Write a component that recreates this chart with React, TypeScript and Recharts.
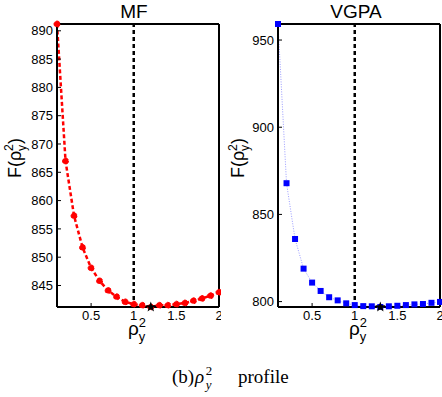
import { ComposedChart, Line, Scatter, XAxis, YAxis, ReferenceLine } from "recharts";

// rho_y^2 grid and objective values
const rho = [0.1, 0.2, 0.3, 0.4, 0.5, 0.6, 0.7, 0.8, 0.9, 1.0, 1.1, 1.2, 1.3, 1.4, 1.5, 1.6, 1.7, 1.8, 1.9, 2.0];
const mfValues = [891.2, 867.0, 857.3, 851.7, 848.1, 845.8, 844.1, 843.0, 842.1, 841.7, 841.5, 841.2, 841.5, 841.5, 841.7, 841.9, 842.3, 842.7, 843.2, 843.8];
const vgpaValues = [959.2, 867.9, 835.9, 818.9, 810.9, 806.1, 802.5, 800.7, 799.0, 798.0, 797.4, 797.3, 796.9, 797.3, 797.6, 798.0, 798.4, 798.6, 799.3, 799.8];

const xTicks = [0.5, 1, 1.5, 2];
const mfTicks = [845, 850, 855, 860, 865, 870, 875, 880, 885, 890];
const vgpaTicks = [800, 850, 900, 950];
const mfDomain: [number, number] = [841.2, 891.2];
const vgpaDomain: [number, number] = [796.9, 959.2];

// minimum of each profile (star) and the true value (dashed line)
const mfBest = [{ x: 1.2, y: 841.2 }];
const vgpaBest = [{ x: 1.3, y: 796.9 }];
const trueRho = 1;

const SANS = "Liberation Sans, Arial, sans-serif";
const SERIF = "Liberation Serif, DejaVu Serif, serif";

function Star(props: any) {
  const { cx, cy } = props;
  const pts: string[] = [];
  for (let i = 0; i < 10; i++) {
    const r = i % 2 === 0 ? 5.5 : 2.3;
    const a = -Math.PI / 2 + (i * Math.PI) / 5;
    pts.push(`${cx + r * Math.cos(a)},${cy + r * Math.sin(a)}`);
  }
  return <polygon points={pts.join(" ")} fill="#000" />;
}

function SquareDot(props: any) {
  const { cx, cy, index } = props;
  return <rect key={index} x={cx - 3} y={cy - 3} width={6} height={6} fill="#0000ff" />;
}

interface PanelProps {
  values: number[];
  domain: [number, number];
  ticks: number[];
  best: { x: number; y: number }[];
  kind: "mf" | "vgpa";
}

function Panel({ values, domain, ticks, best, kind }: PanelProps) {
  const data = rho.map((x, i) => ({ x, v: values[i] }));
  const axisLine = { stroke: "#000", strokeWidth: 2 };
  const tickLine = { stroke: "#000", strokeWidth: 1 };
  const tickStyle = { fill: "#000", fontSize: 13, fontFamily: SANS };
  return (
    <ComposedChart width={221} height={340} data={data} margin={{ top: 23, right: 1, left: 0, bottom: 0 }} style={{ overflow: "visible" }}>
      <XAxis dataKey="x" type="number" domain={[0.1, 2]} ticks={xTicks} interval={0} height={33}
        axisLine={axisLine} tickLine={tickLine} tickSize={-4} tickMargin={8} tick={tickStyle} />
      <XAxis xAxisId="top" orientation="top" dataKey="x" type="number" domain={[0.1, 2]} ticks={xTicks} interval={0} height={1}
        axisLine={axisLine} tickLine={tickLine} tickSize={-4} tick={false} />
      <YAxis type="number" domain={domain} ticks={ticks} interval={0} width={57}
        axisLine={axisLine} tickLine={tickLine} tickSize={-4} tickMargin={8} tick={tickStyle} />
      <YAxis yAxisId="right" orientation="right" type="number" domain={domain} ticks={ticks} interval={0} width={1}
        axisLine={axisLine} tickLine={tickLine} tickSize={-4} tick={false} />
      <ReferenceLine x={trueRho} stroke="#000" strokeWidth={2.5} strokeDasharray="4 3" />
      {/* invisible copy so the top and right axes (the box) get a domain */}
      <Line xAxisId="top" yAxisId="right" dataKey="v" stroke="none" dot={false} activeDot={false} isAnimationActive={false} />
      {kind === "mf" ? (
        <Line dataKey="v" stroke="#ff0000" strokeWidth={2.5} strokeDasharray="4 2.5"
          dot={{ r: 3, fill: "#ff0000", stroke: "#ff0000", strokeWidth: 1 }} isAnimationActive={false} />
      ) : (
        <Line dataKey="v" stroke="#9a9cff" strokeWidth={1} strokeDasharray="1 1.5"
          dot={SquareDot} isAnimationActive={false} />
      )}
      <Scatter data={best} dataKey="y" shape={Star} isAnimationActive={false} />
    </ComposedChart>
  );
}

function RhoLabel({ x, y, size, font, italic }: { x: number; y: number; size: number; font: string; italic?: boolean }) {
  const w = size * 0.56;
  const small = size * 0.68;
  const st = italic ? "italic" : "normal";
  return (
    <g fontFamily={font} fill="#000">
      <text x={x} y={y} fontSize={size} fontStyle={st}>ρ</text>
      <text x={x + w} y={y - size * 0.4} fontSize={small}>2</text>
      <text x={x + w} y={y + size * 0.3} fontSize={small} fontStyle={st}>y</text>
    </g>
  );
}

function YLabel({ bx, cy }: { bx: number; cy: number }) {
  return (
    <g transform={`translate(${bx}, ${cy}) rotate(-90)`} fontFamily={SANS} fill="#000">
      <text x={-20} y={0} fontSize={18}>F(</text>
      <RhoLabel x={-3} y={0} size={18} font={SANS} />
      <text x={14} y={0} fontSize={18}>)</text>
    </g>
  );
}

export default function App() {
  return (
    <div style={{ position: "absolute", left: 0, top: 0, width: 442, height: 397, background: "#fff" }}>
      <div style={{ position: "absolute", left: 0, top: 0 }}>
        <Panel values={mfValues} domain={mfDomain} ticks={mfTicks} best={mfBest} kind="mf" />
      </div>
      <div style={{ position: "absolute", left: 221, top: 0 }}>
        <Panel values={vgpaValues} domain={vgpaDomain} ticks={vgpaTicks} best={vgpaBest} kind="vgpa" />
      </div>
      <svg width={442} height={397} style={{ position: "absolute", left: 0, top: 0, pointerEvents: "none" }}>
        <text x={134} y={17.5} textAnchor="middle" fontSize={19} fontFamily={SANS}>MF</text>
        <text x={356} y={17.5} textAnchor="middle" fontSize={19} fontFamily={SANS}>VGPA</text>
        <YLabel bx={20.5} cy={158} />
        <YLabel bx={244} cy={158} />
        <RhoLabel x={128} y={335} size={19} font={SANS} />
        <RhoLabel x={349} y={335} size={19} font={SANS} />
        <text x={172} y={383} fontSize={19} fontFamily={SERIF}>(b)</text>
        <RhoLabel x={195} y={383} size={19} font={SERIF} italic />
        <text x={238} y={383} fontSize={19} fontFamily={SERIF}>profile</text>
      </svg>
    </div>
  );
}
